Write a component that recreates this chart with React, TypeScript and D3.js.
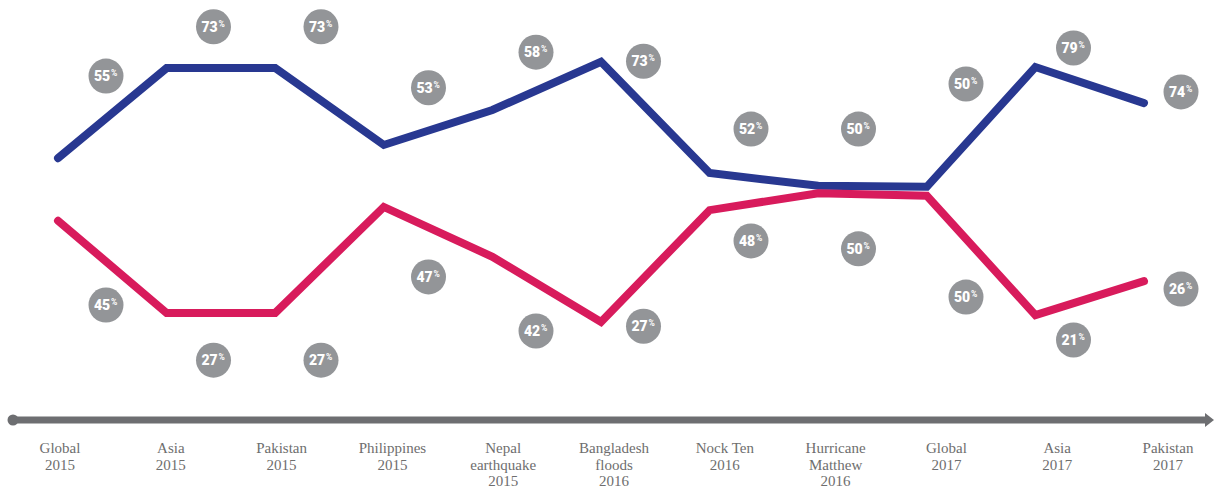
import * as d3 from "d3";

// stops along the timeline
const stops = [
  ["Global", "2015"],
  ["Asia", "2015"],
  ["Pakistan", "2015"],
  ["Philippines", "2015"],
  ["Nepal", "earthquake", "2015"],
  ["Bangladesh", "floods", "2016"],
  ["Nock Ten", "2016"],
  ["Hurricane", "Matthew", "2016"],
  ["Global", "2017"],
  ["Asia", "2017"],
  ["Pakistan", "2017"],
];

// percentages printed in the badges
const bluePct = [55, 73, 73, 53, 58, 73, 52, 50, 50, 79, 74];
const pinkPct = [45, 27, 27, 47, 42, 27, 48, 50, 50, 21, 26];

// where the drawn lines sit (chart units)
const blueLine = [56.0, 73.0, 73.0, 58.5, 65.1, 74.2, 53.2, 50.8, 50.6, 73.2, 66.4];
const pinkLine = [44.2, 26.8, 26.8, 46.8, 37.4, 25.1, 46.2, 49.4, 48.9, 26.4, 32.8];

// badge heights (chart units)
const blueBadge = [71.5, 80.8, 80.8, 69.3, 76.0, 74.3, 61.5, 61.5, 70.0, 76.8, 68.5];
const pinkBadge = [28.3, 17.9, 17.9, 33.6, 23.4, 24.3, 40.4, 38.9, 29.8, 21.7, 31.3];

const W = 1214;
const H = 488;
const BLUE = "#283891";
const PINK = "#d81b5c";
const BADGE = "#939598";
const AXIS = "#6d6e71";

export default function App() {
  const idx = stops.map((_, i) => i);
  const xLine = d3.scalePoint<number>().domain(idx).range([58, 1144]);
  const xBadge = d3.scalePoint<number>().domain(idx).range([106, 1181]);
  const xLabel = d3.scalePoint<number>().domain(idx).range([60, 1168]);
  const y = d3.scaleLinear().domain([20, 80]).range([349, 31]);

  const line = d3
    .line<number>()
    .x((_, i) => xLine(i)!)
    .y((d) => y(d));

  const axisY = 420;
  const axisStart = 13;
  const axisEnd = W;

  const badge = (pct: number, level: number, i: number, key: string) => {
    const cx = xBadge(i)!;
    const cy = y(level);
    return (
      <g key={key} transform={`translate(${cx},${cy})`}>
        <circle r={17.5} fill={BADGE} />
        <text
          x={-4}
          y={5}
          textAnchor="middle"
          fill="#fff"
          fontFamily="Roboto, 'DejaVu Sans', sans-serif"
          fontWeight={900}
          fontSize={14}
        >
          {pct}
        </text>
        <text
          x={5}
          y={0}
          fill="#fff"
          fontFamily="Roboto, 'DejaVu Sans', sans-serif"
          fontWeight={700}
          fontSize={8.5}
        >
          %
        </text>
      </g>
    );
  };

  return (
    <svg
      width={W}
      height={H}
      style={{ position: "absolute", left: 0, top: 0, background: "#fff" }}
    >
      <path
        d={line(blueLine) ?? ""}
        fill="none"
        stroke={BLUE}
        strokeWidth={8}
        strokeLinecap="round"
        strokeLinejoin="miter"
      />
      <path
        d={line(pinkLine) ?? ""}
        fill="none"
        stroke={PINK}
        strokeWidth={8}
        strokeLinecap="round"
        strokeLinejoin="miter"
      />

      {bluePct.map((p, i) => badge(p, blueBadge[i], i, `b${i}`))}
      {pinkPct.map((p, i) => badge(p, pinkBadge[i], i, `p${i}`))}

      {/* timeline arrow */}
      <line
        x1={axisStart}
        x2={axisEnd - 8}
        y1={axisY}
        y2={axisY}
        stroke={AXIS}
        strokeWidth={7}
      />
      <circle cx={axisStart} cy={axisY} r={5.5} fill={AXIS} />
      <path
        d={`M${axisEnd - 9},${axisY - 7}L${axisEnd},${axisY}L${axisEnd - 9},${axisY + 7}Z`}
        fill={AXIS}
      />

      {stops.map((lines, i) => (
        <text
          key={i}
          x={xLabel(i)}
          y={453}
          textAnchor="middle"
          fill="#6e6e6e"
          fontFamily="'Liberation Serif', serif"
          fontSize={15}
        >
          {lines.map((t, j) => (
            <tspan key={j} x={xLabel(i)} dy={j === 0 ? 0 : 16.5}>
              {t}
            </tspan>
          ))}
        </text>
      ))}
    </svg>
  );
}
